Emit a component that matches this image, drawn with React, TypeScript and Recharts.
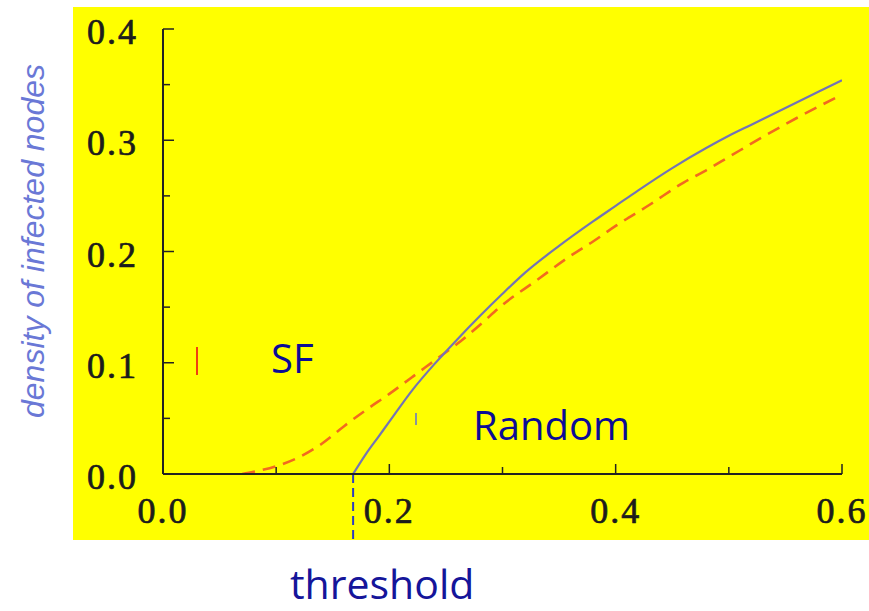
import React from "react";
import { LineChart, Line, XAxis, YAxis, ReferenceLine } from "recharts";

// Random network (solid blue)
const RANDOM_X = [0.168, 0.18, 0.19, 0.2, 0.22, 0.24, 0.26, 0.28, 0.3, 0.32, 0.35, 0.38, 0.4, 0.42, 0.45, 0.48, 0.5, 0.52, 0.55, 0.58, 0.6];
const RANDOM_Y = [0, 0.019, 0.033, 0.047, 0.075, 0.099, 0.121, 0.142, 0.162, 0.181, 0.205, 0.227, 0.241, 0.255, 0.275, 0.293, 0.304, 0.314, 0.329, 0.344, 0.354];

// Scale-free network (dashed orange)
const SF_X = [0.07, 0.08, 0.1, 0.12, 0.14, 0.16, 0.18, 0.2, 0.22, 0.24, 0.26, 0.28, 0.3, 0.33, 0.36, 0.38, 0.4, 0.43, 0.46, 0.48, 0.5, 0.53, 0.56, 0.6];
const SF_Y = [0, 0.002, 0.007, 0.015, 0.027, 0.043, 0.058, 0.072, 0.087, 0.102, 0.117, 0.134, 0.152, 0.174, 0.196, 0.209, 0.223, 0.242, 0.262, 0.273, 0.285, 0.303, 0.32, 0.341];

const THRESHOLD = 0.168;

const X_TICKS = [0, 0.1, 0.2, 0.3, 0.4, 0.5, 0.6];
const Y_TICKS = [0, 0.05, 0.1, 0.15, 0.2, 0.25, 0.3, 0.35, 0.4];

const randomData = RANDOM_X.map((x, i) => ({ x, y: RANDOM_Y[i] }));
const sfData = SF_X.map((x, i) => ({ x, y: SF_Y[i] }));

const AXIS = "#222";
const TICK_FONT = "'Liberation Serif', 'DejaVu Serif', serif";
const TICK_SIZE = 8;
const TICK_MARGIN = 2;
const OFF = TICK_SIZE + TICK_MARGIN;

const isStep = (v: number, step: number) => {
  const r = v / step;
  return Math.abs(r - Math.round(r)) < 1e-6;
};

const labelProps = {
  fontFamily: TICK_FONT,
  fontSize: 36,
  letterSpacing: 2,
  fill: "#1c1c1c",
  stroke: "#1c1c1c",
  strokeWidth: 0.7,
};

// ticks point inward, so the tick line is drawn here from the axis line
const BottomTick = ({ x, y, payload }: any) => {
  const major = isStep(payload.value, 0.2);
  const ay = y - OFF;
  return (
    <g>
      <line x1={x} x2={x} y1={ay} y2={ay - (major ? 10 : 7)} stroke={AXIS} strokeWidth={1.5} />
      {major && (
        <text x={x} y={ay + 49} textAnchor="middle" {...labelProps}>
          {payload.value.toFixed(1)}
        </text>
      )}
    </g>
  );
};

const TopTick = ({ x, y, payload }: any) => {
  const major = isStep(payload.value, 0.2);
  const ay = y + OFF;
  return <line x1={x} x2={x} y1={ay} y2={ay + (major ? 10 : 7)} stroke={AXIS} strokeWidth={1.5} />;
};

const LeftTick = ({ x, y, payload }: any) => {
  const major = isStep(payload.value, 0.1);
  const ax = x + OFF;
  return (
    <g>
      <line x1={ax} x2={ax + (major ? 11 : 7)} y1={y} y2={y} stroke={AXIS} strokeWidth={1.5} />
      {major && (
        <text x={ax - 25} y={y + 15} textAnchor="end" {...labelProps}>
          {payload.value.toFixed(1)}
        </text>
      )}
    </g>
  );
};

const RightTick = ({ x, y, payload }: any) => {
  const major = isStep(payload.value, 0.1);
  const ax = x - OFF;
  return <line x1={ax} x2={ax - (major ? 10 : 7)} y1={y} y2={y} stroke={AXIS} strokeWidth={1.5} />;
};

const hiddenTickLine = { stroke: "none" };

export default function App() {
  return (
    <div style={{ position: "absolute", left: 0, top: 0, width: 869, height: 611, background: "#fff", overflow: "hidden" }}>
      <div style={{ position: "absolute", left: 73, top: 7, width: 796, height: 533, background: "#ffff00" }} />
      <div style={{ position: "absolute", left: 0, top: 0 }}>
        <LineChart width={869} height={611} margin={{ top: 29, right: 27, left: 83, bottom: 77 }}>
          <XAxis
            type="number"
            dataKey="x"
            domain={[0, 0.6]}
            ticks={X_TICKS}
            interval={0}
            height={60}
            tickSize={TICK_SIZE}
            tickMargin={TICK_MARGIN}
            tickLine={hiddenTickLine}
            tick={<BottomTick />}
            axisLine={{ stroke: AXIS, strokeWidth: 2 }}
            allowDataOverflow
          />
          <XAxis
            xAxisId="top"
            orientation="top"
            type="number"
            dataKey="x"
            domain={[0, 0.6]}
            ticks={X_TICKS}
            interval={0}
            height={0}
            tickSize={TICK_SIZE}
            tickMargin={TICK_MARGIN}
            tickLine={hiddenTickLine}
            tick={<TopTick />}
            axisLine={{ stroke: AXIS, strokeWidth: 2 }}
            allowDataOverflow
          />
          <YAxis
            type="number"
            domain={[0, 0.4]}
            ticks={Y_TICKS}
            interval={0}
            width={80}
            tickSize={TICK_SIZE}
            tickMargin={TICK_MARGIN}
            tickLine={hiddenTickLine}
            tick={<LeftTick />}
            axisLine={{ stroke: AXIS, strokeWidth: 2 }}
            allowDataOverflow
          />
          <YAxis
            yAxisId="right"
            orientation="right"
            type="number"
            domain={[0, 0.4]}
            ticks={Y_TICKS}
            interval={0}
            width={0}
            tickSize={TICK_SIZE}
            tickMargin={TICK_MARGIN}
            tickLine={hiddenTickLine}
            tick={<RightTick />}
            axisLine={{ stroke: AXIS, strokeWidth: 2 }}
            allowDataOverflow
          />
          <Line
            data={sfData}
            dataKey="y"
            type="monotone"
            stroke="#f26a1f"
            strokeWidth={2.6}
            strokeDasharray="13 8"
            dot={false}
            isAnimationActive={false}
          />
          <Line
            data={randomData}
            dataKey="y"
            type="monotone"
            stroke="#7474b4"
            strokeWidth={2.2}
            dot={false}
            isAnimationActive={false}
          />
          <ReferenceLine
            segment={[{ x: THRESHOLD, y: 0 }, { x: THRESHOLD, y: -0.06 }]}
            stroke="#2c3cc0"
            strokeWidth={2}
            strokeDasharray="9 5"
            ifOverflow="visible"
          />
        </LineChart>
      </div>
      <svg width={869} height={611} style={{ position: "absolute", left: 0, top: 0, pointerEvents: "none" }}>
        <text
          x={44}
          y={241}
          transform="rotate(-90 44 241)"
          textAnchor="middle"
          fontFamily="'Liberation Sans', Arial, sans-serif"
          fontStyle="italic"
          fontSize={32}
          fill="#6a78d6"
        >
          density of infected nodes
        </text>
        <line x1={197} x2={197} y1={347} y2={375} stroke="#f04010" strokeWidth={2} />
        <line x1={416} x2={416} y1={413} y2={425} stroke="#6070d0" strokeWidth={1.5} />
        <text x={271} y={373} fontFamily="'Open Sans', sans-serif" fontSize={40} fill="#0c0c96">SF</text>
        <text x={473} y={440} fontFamily="'Open Sans', sans-serif" fontSize={40} fill="#0c0c96">Random</text>
        <text x={290} y={599} fontFamily="'Open Sans', sans-serif" fontSize={41} fill="#15159a">threshold</text>
      </svg>
    </div>
  );
}
